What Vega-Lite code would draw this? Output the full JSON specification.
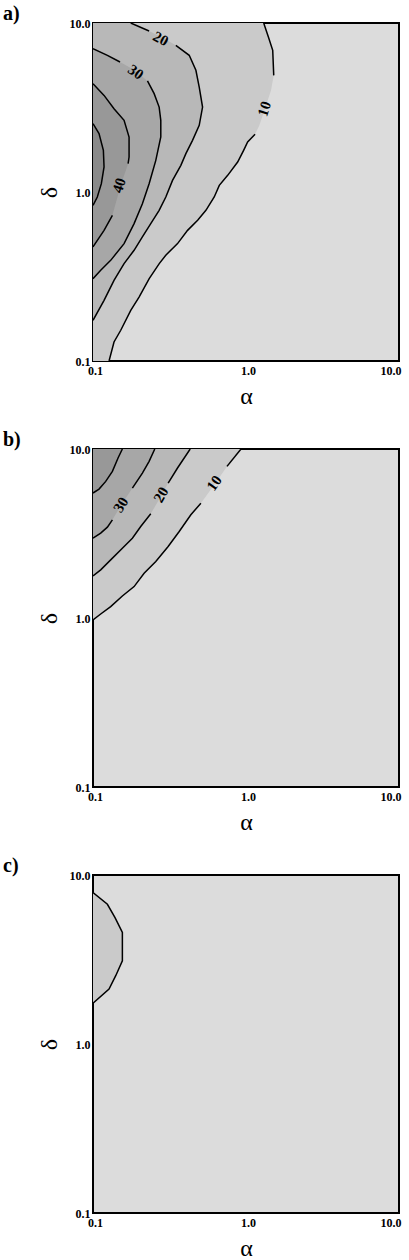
{
  "$schema": "https://vega.github.io/schema/vega-lite/v6.json",
  "padding": {"left": 2, "top": 3, "right": 5, "bottom": 2},
  "spacing": 20,
  "config": {
    "view": {"stroke": "black", "strokeWidth": 2, "fill": "#dcdcdc"},
    "axis": {"grid": false, "ticks": false, "domain": false, "labelFont": "Liberation Serif", "labelFontWeight": "bold", "labelFontSize": 12, "labelColor": "black", "titleFont": "Liberation Serif", "titleFontWeight": "normal", "titleFontSize": 24, "titleColor": "black"},
    "axisX": {"labelPadding": 4, "titlePadding": 8, "labelFlush": false, "labelAlign": {"expr": "datum.value >= 10 ? 'right' : 'center'"}, "labelOffset": 2},
    "axisY": {"labelPadding": 3, "titlePadding": 8},
    "title": {"font": "Liberation Serif", "fontSize": 20, "fontWeight": "bold", "color": "black", "anchor": "start", "frame": "group", "dx": -90, "offset": -7}
  },
  "datasets": {
    "contours": [
      {"panel": "a", "level": 10, "seg": 1, "i": 1, "alpha": 1.305, "delta": 10},
      {"panel": "a", "level": 10, "seg": 1, "i": 2, "alpha": 1.401, "delta": 8.26},
      {"panel": "a", "level": 10, "seg": 1, "i": 3, "alpha": 1.495, "delta": 6.89},
      {"panel": "a", "level": 10, "seg": 1, "i": 4, "alpha": 1.518, "delta": 4.9},
      {"panel": "a", "level": 10, "seg": 0, "i": 5, "alpha": 1.458, "delta": 4.0},
      {"panel": "a", "level": 10, "seg": 0, "i": 6, "alpha": 1.318, "delta": 3.04},
      {"panel": "a", "level": 10, "seg": 0, "i": 7, "alpha": 1.223, "delta": 2.48},
      {"panel": "a", "level": 10, "seg": 2, "i": 8, "alpha": 1.146, "delta": 2.194},
      {"panel": "a", "level": 10, "seg": 2, "i": 9, "alpha": 1.025, "delta": 1.976},
      {"panel": "a", "level": 10, "seg": 2, "i": 10, "alpha": 0.965, "delta": 1.765},
      {"panel": "a", "level": 10, "seg": 2, "i": 11, "alpha": 0.882, "delta": 1.505},
      {"panel": "a", "level": 10, "seg": 2, "i": 12, "alpha": 0.759, "delta": 1.255},
      {"panel": "a", "level": 10, "seg": 2, "i": 13, "alpha": 0.669, "delta": 1.095},
      {"panel": "a", "level": 10, "seg": 2, "i": 14, "alpha": 0.62, "delta": 0.934},
      {"panel": "a", "level": 10, "seg": 2, "i": 15, "alpha": 0.547, "delta": 0.779},
      {"panel": "a", "level": 10, "seg": 2, "i": 16, "alpha": 0.483, "delta": 0.68},
      {"panel": "a", "level": 10, "seg": 2, "i": 17, "alpha": 0.415, "delta": 0.593},
      {"panel": "a", "level": 10, "seg": 2, "i": 18, "alpha": 0.357, "delta": 0.495},
      {"panel": "a", "level": 10, "seg": 2, "i": 19, "alpha": 0.299, "delta": 0.422},
      {"panel": "a", "level": 10, "seg": 2, "i": 20, "alpha": 0.271, "delta": 0.377},
      {"panel": "a", "level": 10, "seg": 2, "i": 21, "alpha": 0.233, "delta": 0.307},
      {"panel": "a", "level": 10, "seg": 2, "i": 22, "alpha": 0.2, "delta": 0.239},
      {"panel": "a", "level": 10, "seg": 2, "i": 23, "alpha": 0.1765, "delta": 0.1995},
      {"panel": "a", "level": 10, "seg": 2, "i": 24, "alpha": 0.1518, "delta": 0.152},
      {"panel": "a", "level": 10, "seg": 2, "i": 25, "alpha": 0.1372, "delta": 0.1296},
      {"panel": "a", "level": 10, "seg": 2, "i": 26, "alpha": 0.1273, "delta": 0.1},

      {"panel": "a", "level": 20, "seg": 1, "i": 1, "alpha": 0.1765, "delta": 10},
      {"panel": "a", "level": 20, "seg": 1, "i": 2, "alpha": 0.2327, "delta": 8.97},
      {"panel": "a", "level": 20, "seg": 0, "i": 3, "alpha": 0.2846, "delta": 8.19},
      {"panel": "a", "level": 20, "seg": 2, "i": 4, "alpha": 0.3479, "delta": 7.38},
      {"panel": "a", "level": 20, "seg": 2, "i": 5, "alpha": 0.4254, "delta": 6.44},
      {"panel": "a", "level": 20, "seg": 2, "i": 6, "alpha": 0.4705, "delta": 5.25},
      {"panel": "a", "level": 20, "seg": 2, "i": 7, "alpha": 0.4946, "delta": 4.18},
      {"panel": "a", "level": 20, "seg": 2, "i": 8, "alpha": 0.5201, "delta": 3.18},
      {"panel": "a", "level": 20, "seg": 2, "i": 9, "alpha": 0.4946, "delta": 2.48},
      {"panel": "a", "level": 20, "seg": 2, "i": 10, "alpha": 0.4472, "delta": 2.022},
      {"panel": "a", "level": 20, "seg": 2, "i": 11, "alpha": 0.4046, "delta": 1.686},
      {"panel": "a", "level": 20, "seg": 2, "i": 12, "alpha": 0.3752, "delta": 1.438},
      {"panel": "a", "level": 20, "seg": 2, "i": 13, "alpha": 0.3309, "delta": 1.172},
      {"panel": "a", "level": 20, "seg": 2, "i": 14, "alpha": 0.2992, "delta": 0.934},
      {"panel": "a", "level": 20, "seg": 2, "i": 15, "alpha": 0.2706, "delta": 0.779},
      {"panel": "a", "level": 20, "seg": 2, "i": 16, "alpha": 0.2385, "delta": 0.65},
      {"panel": "a", "level": 20, "seg": 2, "i": 17, "alpha": 0.2103, "delta": 0.542},
      {"panel": "a", "level": 20, "seg": 2, "i": 18, "alpha": 0.1856, "delta": 0.452},
      {"panel": "a", "level": 20, "seg": 2, "i": 19, "alpha": 0.1596, "delta": 0.377},
      {"panel": "a", "level": 20, "seg": 2, "i": 20, "alpha": 0.1372, "delta": 0.3},
      {"panel": "a", "level": 20, "seg": 2, "i": 21, "alpha": 0.1181, "delta": 0.2286},
      {"panel": "a", "level": 20, "seg": 2, "i": 22, "alpha": 0.1, "delta": 0.174},

      {"panel": "a", "level": 30, "seg": 1, "i": 1, "alpha": 0.1, "delta": 7.05},
      {"panel": "a", "level": 30, "seg": 1, "i": 2, "alpha": 0.1242, "delta": 6.44},
      {"panel": "a", "level": 30, "seg": 1, "i": 3, "alpha": 0.1502, "delta": 5.88},
      {"panel": "a", "level": 30, "seg": 0, "i": 4, "alpha": 0.1875, "delta": 5.25},
      {"panel": "a", "level": 30, "seg": 2, "i": 5, "alpha": 0.227, "delta": 4.54},
      {"panel": "a", "level": 30, "seg": 2, "i": 6, "alpha": 0.251, "delta": 3.82},
      {"panel": "a", "level": 30, "seg": 2, "i": 7, "alpha": 0.2706, "delta": 3.18},
      {"panel": "a", "level": 30, "seg": 2, "i": 8, "alpha": 0.2774, "delta": 2.655},
      {"panel": "a", "level": 30, "seg": 2, "i": 9, "alpha": 0.2774, "delta": 2.115},
      {"panel": "a", "level": 30, "seg": 2, "i": 10, "alpha": 0.2573, "delta": 1.539},
      {"panel": "a", "level": 30, "seg": 2, "i": 11, "alpha": 0.2327, "delta": 1.12},
      {"panel": "a", "level": 30, "seg": 2, "i": 12, "alpha": 0.2103, "delta": 0.853},
      {"panel": "a", "level": 30, "seg": 2, "i": 13, "alpha": 0.1856, "delta": 0.65},
      {"panel": "a", "level": 30, "seg": 2, "i": 14, "alpha": 0.1596, "delta": 0.495},
      {"panel": "a", "level": 30, "seg": 2, "i": 15, "alpha": 0.1305, "delta": 0.394},
      {"panel": "a", "level": 30, "seg": 2, "i": 16, "alpha": 0.1123, "delta": 0.344},
      {"panel": "a", "level": 30, "seg": 2, "i": 17, "alpha": 0.1, "delta": 0.307},

      {"panel": "a", "level": 40, "seg": 1, "i": 1, "alpha": 0.1, "delta": 4.375},
      {"panel": "a", "level": 40, "seg": 1, "i": 2, "alpha": 0.1181, "delta": 3.73},
      {"panel": "a", "level": 40, "seg": 1, "i": 3, "alpha": 0.1372, "delta": 3.11},
      {"panel": "a", "level": 40, "seg": 1, "i": 4, "alpha": 0.1596, "delta": 2.655},
      {"panel": "a", "level": 40, "seg": 1, "i": 5, "alpha": 0.1721, "delta": 2.115},
      {"panel": "a", "level": 40, "seg": 1, "i": 6, "alpha": 0.1721, "delta": 1.611},
      {"panel": "a", "level": 40, "seg": 1, "i": 7, "alpha": 0.1696, "delta": 1.471},
      {"panel": "a", "level": 40, "seg": 0, "i": 8, "alpha": 0.1518, "delta": 1.095},
      {"panel": "a", "level": 40, "seg": 2, "i": 9, "alpha": 0.1339, "delta": 0.728},
      {"panel": "a", "level": 40, "seg": 2, "i": 10, "alpha": 0.1181, "delta": 0.593},
      {"panel": "a", "level": 40, "seg": 2, "i": 11, "alpha": 0.1, "delta": 0.473},

      {"panel": "a", "level": 50, "seg": 1, "i": 1, "alpha": 0.1, "delta": 2.537},
      {"panel": "a", "level": 50, "seg": 1, "i": 2, "alpha": 0.1095, "delta": 2.214},
      {"panel": "a", "level": 50, "seg": 1, "i": 3, "alpha": 0.1169, "delta": 1.765},
      {"panel": "a", "level": 50, "seg": 1, "i": 4, "alpha": 0.1181, "delta": 1.406},
      {"panel": "a", "level": 50, "seg": 1, "i": 5, "alpha": 0.1134, "delta": 1.12},
      {"panel": "a", "level": 50, "seg": 1, "i": 6, "alpha": 0.1067, "delta": 0.934},
      {"panel": "a", "level": 50, "seg": 1, "i": 7, "alpha": 0.1, "delta": 0.834},

      {"panel": "b", "level": 10, "seg": 1, "i": 1, "alpha": 0.1, "delta": 0.975},
      {"panel": "b", "level": 10, "seg": 1, "i": 2, "alpha": 0.1123, "delta": 1.056},
      {"panel": "b", "level": 10, "seg": 1, "i": 3, "alpha": 0.1305, "delta": 1.167},
      {"panel": "b", "level": 10, "seg": 1, "i": 4, "alpha": 0.1556, "delta": 1.35},
      {"panel": "b", "level": 10, "seg": 1, "i": 5, "alpha": 0.1856, "delta": 1.534},
      {"panel": "b", "level": 10, "seg": 1, "i": 6, "alpha": 0.2158, "delta": 1.84},
      {"panel": "b", "level": 10, "seg": 1, "i": 7, "alpha": 0.2573, "delta": 2.158},
      {"panel": "b", "level": 10, "seg": 1, "i": 8, "alpha": 0.3099, "delta": 2.647},
      {"panel": "b", "level": 10, "seg": 1, "i": 9, "alpha": 0.366, "delta": 3.25},
      {"panel": "b", "level": 10, "seg": 1, "i": 10, "alpha": 0.4361, "delta": 4.08},
      {"panel": "b", "level": 10, "seg": 1, "i": 11, "alpha": 0.5072, "delta": 4.78},
      {"panel": "b", "level": 10, "seg": 0, "i": 12, "alpha": 0.6203, "delta": 6.14},
      {"panel": "b", "level": 10, "seg": 2, "i": 13, "alpha": 0.751, "delta": 7.89},
      {"panel": "b", "level": 10, "seg": 2, "i": 14, "alpha": 0.9275, "delta": 10},

      {"panel": "b", "level": 20, "seg": 1, "i": 1, "alpha": 0.1, "delta": 1.774},
      {"panel": "b", "level": 20, "seg": 1, "i": 2, "alpha": 0.1123, "delta": 1.926},
      {"panel": "b", "level": 20, "seg": 1, "i": 3, "alpha": 0.1305, "delta": 2.208},
      {"panel": "b", "level": 20, "seg": 1, "i": 4, "alpha": 0.1556, "delta": 2.588},
      {"panel": "b", "level": 20, "seg": 1, "i": 5, "alpha": 0.1809, "delta": 2.967},
      {"panel": "b", "level": 20, "seg": 1, "i": 6, "alpha": 0.2051, "delta": 3.478},
      {"panel": "b", "level": 20, "seg": 1, "i": 7, "alpha": 0.2385, "delta": 4.136},
      {"panel": "b", "level": 20, "seg": 0, "i": 8, "alpha": 0.2774, "delta": 5.24},
      {"panel": "b", "level": 20, "seg": 2, "i": 9, "alpha": 0.3099, "delta": 6.29},
      {"panel": "b", "level": 20, "seg": 2, "i": 10, "alpha": 0.3568, "delta": 7.72},
      {"panel": "b", "level": 20, "seg": 2, "i": 11, "alpha": 0.4318, "delta": 10},

      {"panel": "b", "level": 30, "seg": 1, "i": 1, "alpha": 0.1, "delta": 2.967},
      {"panel": "b", "level": 30, "seg": 1, "i": 2, "alpha": 0.1123, "delta": 3.177},
      {"panel": "b", "level": 30, "seg": 1, "i": 3, "alpha": 0.1242, "delta": 3.447},
      {"panel": "b", "level": 30, "seg": 1, "i": 4, "alpha": 0.1339, "delta": 3.81},
      {"panel": "b", "level": 30, "seg": 0, "i": 5, "alpha": 0.1533, "delta": 4.68},
      {"panel": "b", "level": 30, "seg": 2, "i": 6, "alpha": 0.1809, "delta": 5.87},
      {"panel": "b", "level": 30, "seg": 2, "i": 7, "alpha": 0.2103, "delta": 7.2},
      {"panel": "b", "level": 30, "seg": 2, "i": 8, "alpha": 0.2327, "delta": 8.45},
      {"panel": "b", "level": 30, "seg": 2, "i": 9, "alpha": 0.2534, "delta": 10},

      {"panel": "b", "level": 40, "seg": 1, "i": 1, "alpha": 0.1, "delta": 5.49},
      {"panel": "b", "level": 40, "seg": 1, "i": 2, "alpha": 0.1095, "delta": 5.79},
      {"panel": "b", "level": 40, "seg": 1, "i": 3, "alpha": 0.1211, "delta": 6.43},
      {"panel": "b", "level": 40, "seg": 1, "i": 4, "alpha": 0.1339, "delta": 7.37},
      {"panel": "b", "level": 40, "seg": 1, "i": 5, "alpha": 0.1458, "delta": 8.84},
      {"panel": "b", "level": 40, "seg": 1, "i": 6, "alpha": 0.1556, "delta": 10},

      {"panel": "c", "level": 10, "seg": 1, "i": 1, "alpha": 0.1, "delta": 7.87},
      {"panel": "c", "level": 10, "seg": 1, "i": 2, "alpha": 0.1242, "delta": 6.71},
      {"panel": "c", "level": 10, "seg": 1, "i": 3, "alpha": 0.1393, "delta": 5.6},
      {"panel": "c", "level": 10, "seg": 1, "i": 4, "alpha": 0.1556, "delta": 4.57},
      {"panel": "c", "level": 10, "seg": 1, "i": 5, "alpha": 0.1556, "delta": 3.11},
      {"panel": "c", "level": 10, "seg": 1, "i": 6, "alpha": 0.1408, "delta": 2.536},
      {"panel": "c", "level": 10, "seg": 1, "i": 7, "alpha": 0.1273, "delta": 2.116},
      {"panel": "c", "level": 10, "seg": 1, "i": 8, "alpha": 0.1, "delta": 1.741}
    ],
    "labels": [
      {"panel": "a", "id": "a10", "text": "10", "alpha": 1.318, "delta": 3.11},
      {"panel": "a", "id": "a20", "text": "20", "alpha": 0.2774, "delta": 8.08},
      {"panel": "a", "id": "a30", "text": "30", "alpha": 0.1904, "delta": 5.13},
      {"panel": "a", "id": "a40", "text": "40", "alpha": 0.148, "delta": 1.095},
      {"panel": "b", "id": "b30", "text": "30", "alpha": 0.1518, "delta": 4.68},
      {"panel": "b", "id": "b20", "text": "20", "alpha": 0.2774, "delta": 5.36},
      {"panel": "b", "id": "b10", "text": "10", "alpha": 0.6203, "delta": 6.29}
    ]
  },
  "vconcat": [
    {
      "title": {"text": "a)"},
      "width": 306,
      "height": 338,
      "encoding": {
        "x": {"field": "alpha", "type": "quantitative", "scale": {"type": "log", "domain": [0.1, 10]}, "axis": {"values": [0.1, 1, 10], "format": ".1f", "title": "α"}},
        "y": {"field": "delta", "type": "quantitative", "scale": {"type": "log", "domain": [0.1, 10]}, "axis": {"values": [0.1, 1, 10], "format": ".1f", "title": "δ"}}
      },
      "layer": [
        {
          "data": {"name": "contours"},
          "transform": [{"filter": "datum.panel == 'a'"}],
          "mark": {"type": "area", "orient": "horizontal", "opacity": 1},
          "encoding": {
            "x2": {"datum": 0.1},
            "detail": {"field": "level"},
            "color": {"field": "level", "type": "ordinal", "scale": {"domain": [10, 20, 30, 40, 50], "range": ["#cacaca", "#b8b8b8", "#a7a7a7", "#989898", "#8a8a8a"]}, "legend": null}
          }
        },
        {
          "data": {"name": "contours"},
          "transform": [{"filter": "datum.panel == 'a' && datum.seg > 0"}],
          "mark": {"type": "line", "color": "black", "strokeWidth": 1.5, "clip": true},
          "encoding": {
            "order": {"field": "i", "type": "quantitative"},
            "detail": [{"field": "level"}, {"field": "seg"}]
          }
        },
        {
          "data": {"name": "labels"},
          "transform": [{"filter": "datum.id == 'a10'"}],
          "mark": {"type": "text", "font": "Liberation Serif", "fontWeight": "bold", "fontSize": 15, "angle": -72, "color": "black"},
          "encoding": {"text": {"field": "text"}}
        },
        {
          "data": {"name": "labels"},
          "transform": [{"filter": "datum.id == 'a20'"}],
          "mark": {"type": "text", "font": "Liberation Serif", "fontWeight": "bold", "fontSize": 15, "angle": 28, "color": "black"},
          "encoding": {"text": {"field": "text"}}
        },
        {
          "data": {"name": "labels"},
          "transform": [{"filter": "datum.id == 'a30'"}],
          "mark": {"type": "text", "font": "Liberation Serif", "fontWeight": "bold", "fontSize": 15, "angle": 35, "color": "black"},
          "encoding": {"text": {"field": "text"}}
        },
        {
          "data": {"name": "labels"},
          "transform": [{"filter": "datum.id == 'a40'"}],
          "mark": {"type": "text", "font": "Liberation Serif", "fontWeight": "bold", "fontSize": 15, "angle": -72, "color": "black"},
          "encoding": {"text": {"field": "text"}}
        }
      ]
    },
    {
      "title": {"text": "b)"},
      "width": 306,
      "height": 338,
      "encoding": {
        "x": {"field": "alpha", "type": "quantitative", "scale": {"type": "log", "domain": [0.1, 10]}, "axis": {"values": [0.1, 1, 10], "format": ".1f", "title": "α"}},
        "y": {"field": "delta", "type": "quantitative", "scale": {"type": "log", "domain": [0.1, 10]}, "axis": {"values": [0.1, 1, 10], "format": ".1f", "title": "δ"}}
      },
      "layer": [
        {
          "data": {"name": "contours"},
          "transform": [{"filter": "datum.panel == 'b'"}],
          "mark": {"type": "area", "orient": "horizontal", "opacity": 1},
          "encoding": {
            "x2": {"datum": 0.1},
            "detail": {"field": "level"},
            "color": {"field": "level", "type": "ordinal", "scale": {"domain": [10, 20, 30, 40, 50], "range": ["#cacaca", "#b8b8b8", "#a7a7a7", "#989898", "#8a8a8a"]}, "legend": null}
          }
        },
        {
          "data": {"name": "contours"},
          "transform": [{"filter": "datum.panel == 'b' && datum.seg > 0"}],
          "mark": {"type": "line", "color": "black", "strokeWidth": 1.5, "clip": true},
          "encoding": {
            "order": {"field": "i", "type": "quantitative"},
            "detail": [{"field": "level"}, {"field": "seg"}]
          }
        },
        {
          "data": {"name": "labels"},
          "transform": [{"filter": "datum.id == 'b30'"}],
          "mark": {"type": "text", "font": "Liberation Serif", "fontWeight": "bold", "fontSize": 15, "angle": -58, "color": "black"},
          "encoding": {"text": {"field": "text"}}
        },
        {
          "data": {"name": "labels"},
          "transform": [{"filter": "datum.id == 'b20'"}],
          "mark": {"type": "text", "font": "Liberation Serif", "fontWeight": "bold", "fontSize": 15, "angle": -60, "color": "black"},
          "encoding": {"text": {"field": "text"}}
        },
        {
          "data": {"name": "labels"},
          "transform": [{"filter": "datum.id == 'b10'"}],
          "mark": {"type": "text", "font": "Liberation Serif", "fontWeight": "bold", "fontSize": 15, "angle": -55, "color": "black"},
          "encoding": {"text": {"field": "text"}}
        }
      ]
    },
    {
      "title": {"text": "c)"},
      "width": 306,
      "height": 338,
      "encoding": {
        "x": {"field": "alpha", "type": "quantitative", "scale": {"type": "log", "domain": [0.1, 10]}, "axis": {"values": [0.1, 1, 10], "format": ".1f", "title": "α"}},
        "y": {"field": "delta", "type": "quantitative", "scale": {"type": "log", "domain": [0.1, 10]}, "axis": {"values": [0.1, 1, 10], "format": ".1f", "title": "δ"}}
      },
      "layer": [
        {
          "data": {"name": "contours"},
          "transform": [{"filter": "datum.panel == 'c'"}],
          "mark": {"type": "area", "orient": "horizontal", "opacity": 1},
          "encoding": {
            "x2": {"datum": 0.1},
            "detail": {"field": "level"},
            "color": {"field": "level", "type": "ordinal", "scale": {"domain": [10, 20, 30, 40, 50], "range": ["#cacaca", "#b8b8b8", "#a7a7a7", "#989898", "#8a8a8a"]}, "legend": null}
          }
        },
        {
          "data": {"name": "contours"},
          "transform": [{"filter": "datum.panel == 'c' && datum.seg > 0"}],
          "mark": {"type": "line", "color": "black", "strokeWidth": 1.5, "clip": true},
          "encoding": {
            "order": {"field": "i", "type": "quantitative"},
            "detail": [{"field": "level"}, {"field": "seg"}]
          }
        }
      ]
    }
  ]
}
